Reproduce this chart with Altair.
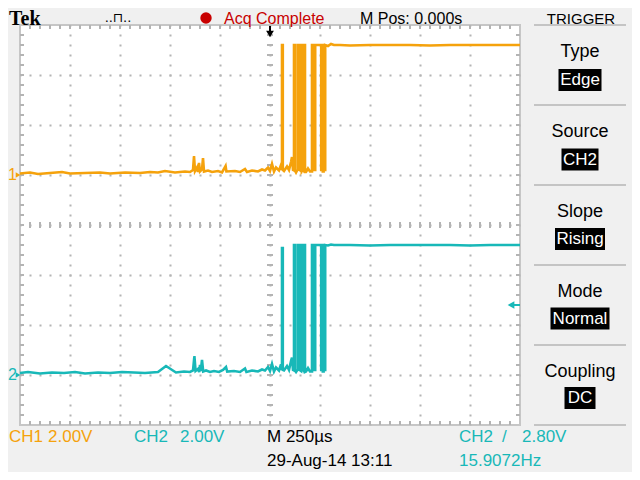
import altair as alt
import pandas as pd

ORANGE = "#f5a20c"
CYAN = "#18b8b8"
RED = "#c80000"
GRID = "#b4b4b4"
FRAME = "#c6c6c6"
PANEL_LINE = "#c4c4c4"
FONT = "Liberation Sans"

# scope settings
time_per_div = 250  # µs per division, 10 divisions across
volts_per_div = 2.0
ch1_ground = 1  # divisions above centre
ch2_ground = -3
trigger_level = 2.80  # V, on CH2

# CH1: time (µs) and level (V), before the edge
ch1_pre_t = [-1250, -1200, -1160, -1100, -1040, -1000, -925, -850, -800, -725, -650, -600,
             -560, -525, -475, -425, -400, -385, -380, -375, -365, -360, -355, -350,
             -340, -335, -330, -310, -290, -260, -240, -222, -218, -175, -150, -125,
             -115, -90, -60, -40, -25, -10, 0, 10, 20, 30, 45, 55]
ch1_pre_v = [0.06, 0.10, 0.04, 0.08, 0.12, 0.06, 0.08, 0.10, 0.06, 0.10, 0.08, 0.12,
             0.10, 0.16, 0.10, 0.14, 0.12, 0.20, 0.76, 0.16, 0.30, 0.12, 0.48, 0.14,
             0.22, 0.68, 0.14, 0.18, 0.12, 0.16, 0.10, 0.36, 0.14, 0.16, 0.12, 0.24,
             0.12, 0.18, 0.14, 0.22, 0.18, 0.30, 0.16, 0.44, 0.14, 0.30, 0.18, 0.40]
# contact bounce
ch1_edge_t = [60, 60, 64, 64, 70, 85, 95, 105, 110, 115, 120, 120, 124, 124, 130,
              138, 138, 142, 142, 148, 155, 155, 159, 159, 165, 171, 171, 175, 175,
              180, 190, 200, 210, 210, 214, 214, 218, 218, 222, 222, 226, 226,
              256, 256, 260, 260, 264, 264, 268, 268, 272, 272, 276]
ch1_edge_v = [0.20, 5.20, 5.20, 0.20, 0.16, 0.34, 0.20, 0.52, 0.72, 0.20, 0.18, 5.20, 5.20, 0.18, 0.10,
              0.22, 5.20, 5.20, 0.22, 0.20, 0.16, 5.20, 5.20, 0.16, 0.24, 0.12, 5.20, 5.20, 0.12,
              0.12, 0.26, 0.14, 0.14, 5.20, 5.20, 0.30, 0.30, 5.20, 5.20, 0.20, 0.20, 5.20,
              5.20, 0.20, 0.20, 5.20, 5.20, 0.14, 0.14, 5.20, 5.20, 0.20, 0.20]
ch1_high_t = [276, 290, 305, 320, 350, 400, 500, 600, 700, 800, 900, 1000, 1100, 1250]
ch1_high_v = [5.20, 5.16, 5.24, 5.20, 5.20, 5.18, 5.20, 5.20, 5.20, 5.18, 5.20, 5.20, 5.20, 5.20]

# CH2
ch2_pre_t = [-1250, -1210, -1150, -1090, -1030, -975, -925, -860, -800, -740, -680, -625,
             -560, -520, -470, -430, -400, -385, -378, -372, -360, -354, -350, -346,
             -340, -334, -320, -300, -280, -255, -235, -220, -214, -180, -150, -125,
             -118, -90, -60, -40, -25, -10, 0, 10, 20, 30, 45, 55]
ch2_pre_v = [0.08, 0.12, 0.06, 0.10, 0.08, 0.12, 0.06, 0.10, 0.08, 0.12, 0.10, 0.08,
             0.12, 0.36, 0.10, 0.14, 0.12, 0.18, 0.76, 0.16, 0.24, 0.12, 0.40, 0.16,
             0.60, 0.14, 0.18, 0.12, 0.16, 0.12, 0.20, 0.32, 0.14, 0.16, 0.12, 0.26,
             0.12, 0.18, 0.14, 0.22, 0.18, 0.32, 0.16, 0.44, 0.14, 0.30, 0.18, 0.42]
ch2_edge_t = [60, 60, 64, 64, 70, 85, 95, 105, 110, 115, 120, 120, 124, 124, 130,
              138, 138, 142, 142, 148, 155, 155, 159, 159, 165, 171, 171, 175, 175,
              180, 190, 200, 210, 210, 214, 214, 218, 218, 222, 222, 226, 226,
              256, 256, 260, 260, 264, 264, 268, 268, 272, 272, 276]
ch2_edge_v = [0.20, 5.08, 5.08, 0.20, 0.18, 0.36, 0.20, 0.56, 0.70, 0.20, 0.18, 5.20, 5.20, 0.18, 0.12,
              0.22, 5.20, 5.20, 0.22, 0.20, 0.16, 5.20, 5.20, 0.16, 0.26, 0.12, 5.20, 5.20, 0.12,
              0.14, 0.28, 0.14, 0.14, 5.20, 5.20, 0.30, 0.30, 5.20, 5.20, 0.20, 0.20, 5.20,
              5.20, 0.20, 0.20, 5.20, 5.20, 0.14, 0.14, 5.20, 5.20, 0.20, 0.20]
ch2_high_t = [276, 290, 305, 320, 350, 400, 500, 600, 700, 800, 900, 1000, 1100, 1250]
ch2_high_v = [5.20, 5.18, 5.22, 5.20, 5.20, 5.20, 5.18, 5.20, 5.20, 5.20, 5.20, 5.18, 5.20, 5.20]

# readouts
trigger_menu = ["Type", "Source", "Slope", "Mode", "Coupling"]
trigger_values = ["Edge", "CH2", "Rising", "Normal", "DC"]
box_widths = [43, 37, 50, 59, 31]


def trace(t, v, ground):
    return pd.DataFrame({
        "t": t,
        "div": [x / volts_per_div + ground for x in v],
        "i": range(len(t)),
    })


ch1 = trace(ch1_pre_t + ch1_edge_t + ch1_high_t, ch1_pre_v + ch1_edge_v + ch1_high_v, ch1_ground)
ch2 = trace(ch2_pre_t + ch2_edge_t + ch2_high_t, ch2_pre_v + ch2_edge_v + ch2_high_v, ch2_ground)

major_t = [time_per_div * k for k in range(-4, 5)]
minor_t = pd.DataFrame({"t": [time_per_div * k / 5 for k in range(-24, 25)]})
minor_div = pd.DataFrame({"div": [k / 5 for k in range(-19, 20)]})
one = pd.DataFrame({"k": [0]})

X = alt.X("t:Q", scale=alt.Scale(domain=[-5 * time_per_div, 5 * time_per_div], nice=False, zero=False),
          axis=alt.Axis(values=major_t, grid=True, gridDash=[2, 8], gridDashOffset=1, gridColor=GRID,
                        gridWidth=2, domain=False, ticks=False, labels=False, title=None))
Y = alt.Y("div:Q", scale=alt.Scale(domain=[-4, 4], nice=False, zero=False),
          axis=alt.Axis(values=list(range(-3, 4)), grid=True, gridDash=[2, 8], gridDashOffset=1,
                        gridColor=GRID, gridWidth=2, domain=False, ticks=False, labels=False, title=None))


def xticks(y0, y1):
    return alt.Chart(minor_t).mark_rule(color=GRID, strokeWidth=2).encode(
        x=X, y=alt.value(y0), y2=alt.value(y1))


def yticks(x0, x1):
    return alt.Chart(minor_div).mark_rule(color=GRID, strokeWidth=2).encode(
        y=Y, x=alt.value(x0), x2=alt.value(x1))


def text(s, x, y, color="black", size=17, align="left", font=FONT, weight="normal"):
    return alt.Chart(one).mark_text(
        text=s, align=align, baseline="middle", color=color, fontSize=size, font=font, fontWeight=weight
    ).encode(x=alt.value(x), y=alt.value(y))


def hline(x0, x1, y, color=PANEL_LINE, width=2):
    return alt.Chart(one).mark_rule(color=color, strokeWidth=width).encode(
        x=alt.value(x0), x2=alt.value(x1), y=alt.value(y))


graticule = [xticks(197, 203), xticks(0, 4), xticks(396, 400),
             yticks(247, 253), yticks(0, 4), yticks(496, 500)]

lines = [
    alt.Chart(ch1).mark_line(color=ORANGE, strokeWidth=2.6, strokeJoin="miter").encode(x=X, y=Y, order="i:Q"),
    alt.Chart(ch2).mark_line(color=CYAN, strokeWidth=2.6, strokeJoin="miter").encode(x=X, y=Y, order="i:Q"),
]

markers = [
    alt.Chart(one).mark_text(text="1", align="left", baseline="middle", color=ORANGE, fontSize=16, font=FONT)
    .encode(x=alt.value(-12), y=alt.datum(ch1_ground)),
    alt.Chart(one).mark_point(shape="triangle-right", filled=True, size=28, color=ORANGE, opacity=1)
    .encode(x=alt.value(-2), y=alt.datum(ch1_ground)),
    alt.Chart(one).mark_text(text="2", align="left", baseline="middle", color=CYAN, fontSize=16, font=FONT)
    .encode(x=alt.value(-12), y=alt.datum(ch2_ground)),
    alt.Chart(one).mark_point(shape="triangle-right", filled=True, size=28, color=CYAN, opacity=1)
    .encode(x=alt.value(-2), y=alt.datum(ch2_ground)),
    # trigger position
    alt.Chart(one).mark_rule(color="black", strokeWidth=2).encode(x=alt.datum(0), y=alt.value(1), y2=alt.value(7)),
    alt.Chart(one).mark_point(shape="triangle-down", filled=True, size=60, color="black", opacity=1)
    .encode(x=alt.value(250), y=alt.value(9)),
    # trigger level
    alt.Chart(one).mark_rule(color=CYAN, strokeWidth=2).encode(
        x=alt.value(492), x2=alt.value(500), y=alt.datum(trigger_level / volts_per_div + ch2_ground)),
    alt.Chart(one).mark_point(shape="triangle-left", filled=True, size=60, color=CYAN, opacity=1)
    .encode(x=alt.value(491), y=alt.datum(trigger_level / volts_per_div + ch2_ground)),
]

header = [
    text("Tek", -11, -6, size=20, font="Liberation Serif", weight="bold"),
    text("..⊓..", 98, -7, size=13, align="center", font="DejaVu Sans"),
    alt.Chart(one).mark_point(shape="circle", filled=True, size=130, color=RED, opacity=1)
    .encode(x=alt.value(186), y=alt.value(-7)),
    text("Acq Complete", 204, -6, color=RED, size=16),
    text("M Pos: 0.000s", 340, -6, size=16),
    text("TRIGGER", 561, -6, size=15, align="center"),
]

panel = [hline(514, 606, 80 * k) for k in range(6)]
for k, (name, value) in enumerate(zip(trigger_menu, trigger_values)):
    w = box_widths[k]
    panel.append(text(name, 560, 27 + 80 * k, size=18, align="center"))
    panel.append(
        alt.Chart(one).mark_rect(color="black").encode(
            x=alt.value(560 - w / 2), x2=alt.value(560 + w / 2),
            y=alt.value(44 + 79.5 * k), y2=alt.value(66 + 79.5 * k))
    )
    panel.append(text(value, 560, 55 + 79.5 * k, color="white", size=17, align="center"))

footer = [
    text("CH1", -11, 412, color=ORANGE),
    text("2.00V", 28, 412, color=ORANGE),
    text("CH2", 114, 412, color=CYAN),
    text("2.00V", 160, 412, color=CYAN),
    text("M 250µs", 247, 412),
    text("29-Aug-14 13:11", 247, 436),
    text("CH2", 439, 412, color=CYAN),
    text("/", 482, 412, color=CYAN),
    text("2.80V", 502, 412, color=CYAN),
    text("15.9072Hz", 439, 436, color=CYAN),
]

chart = (
    alt.layer(*graticule, *lines, *markers, *header, *panel, *footer)
    .properties(
        width=500,
        height=400,
        padding={"left": 12, "top": 17, "right": 112, "bottom": 47},
        autosize=alt.AutoSizeParams(type="none"),
    )
    .configure(background="#f0f0f0")
    .configure_view(fill="white", stroke=FRAME, strokeWidth=2)
)

chart.save("out.html", embed_options={"renderer": "svg", "actions": False})
